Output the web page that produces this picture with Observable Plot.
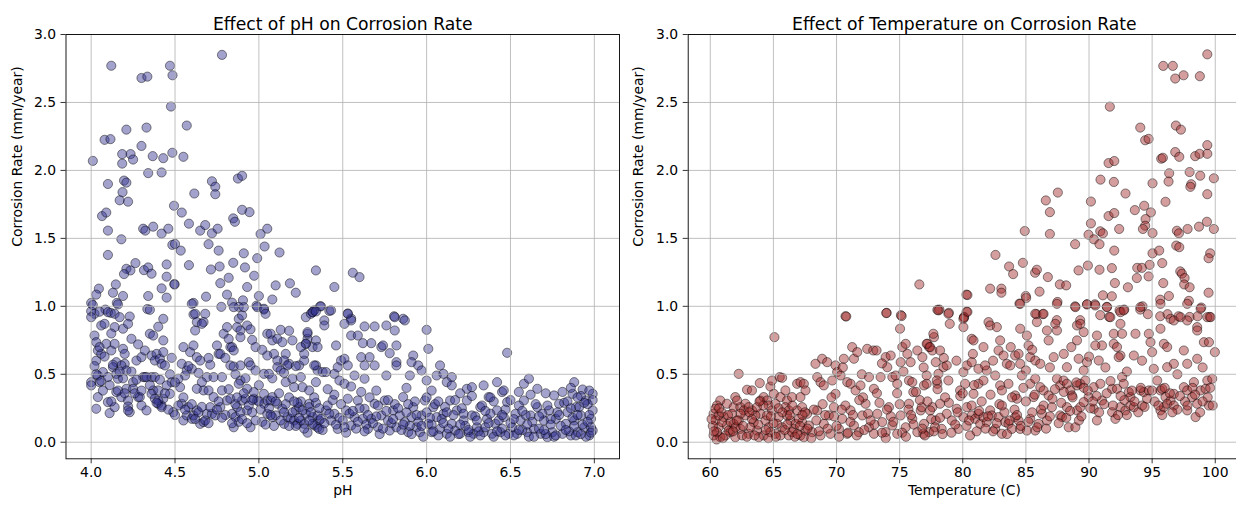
<!DOCTYPE html>
<html><head><meta charset="utf-8">
<script src="https://cdn.jsdelivr.net/npm/d3@7"></script>
<script src="https://cdn.jsdelivr.net/npm/@observablehq/plot@0.6"></script>
<style>
html,body{margin:0;padding:0;background:#fff;overflow:hidden;}
#wrap{position:relative;width:1236px;height:508px;overflow:hidden;}
#wrap svg{position:absolute;top:0;}
</style></head><body><div id="wrap"></div>
<script>
const leftTitle = "Effect of pH on Corrosion Rate";
const rightTitle = "Effect of Temperature on Corrosion Rate";
const leftXLabel = "pH";
const rightXLabel = "Temperature (C)";
const yLabel = "Corrosion Rate (mm/year)";
const phTicks = [4.0, 4.5, 5.0, 5.5, 6.0, 6.5, 7.0];
const tempTicks = [60, 65, 70, 75, 80, 85, 90, 95, 100];
const rateTicks = [0.0, 0.5, 1.0, 1.5, 2.0, 2.5, 3.0];

// [pH, corrosion rate]
const phPoints = [
[4.78,2.85],[4.12,2.77],[4.47,2.77],[4.30,2.68],[4.335,2.69],[4.485,2.70],[4.476,2.47],[4.21,2.30],[4.33,2.315],[4.57,2.33],[4.08,2.225],[4.115,2.23],[4.30,2.18],[4.01,2.07],[4.185,2.12],[4.235,2.12],[4.25,2.08],[4.185,2.05],[4.367,2.105],[4.43,2.09],[4.484,2.13],[4.55,2.10],[4.10,1.90],[4.196,1.925],[4.21,1.91],[4.34,1.98],[4.42,1.985],[4.187,1.84],[4.17,1.78],[4.22,1.77],[4.72,1.92],[4.74,1.88],[4.74,1.825],[4.875,1.94],[4.90,1.96],[4.615,1.83],[4.065,1.664],[4.09,1.69],[4.10,1.557],[4.18,1.493],[4.31,1.571],[4.323,1.557],[4.37,1.586],[4.42,1.535],[4.46,1.571],[4.494,1.74],[4.54,1.69],[4.583,1.608],[4.65,1.557],[4.68,1.598],[4.72,1.537],[4.754,1.571],[4.847,1.647],[4.857,1.622],[4.90,1.71],[4.944,1.693],[5.01,1.532],[5.05,1.571],[4.10,1.378],[4.484,1.452],[4.50,1.459],[4.534,1.41],[4.70,1.457],[4.76,1.41],[4.91,1.39],[5.034,1.44],[5.123,1.396],[4.99,1.354],[4.264,1.318],[4.21,1.276],[4.234,1.264],[4.196,1.237],[4.315,1.266],[4.34,1.286],[4.36,1.24],[4.45,1.308],[4.45,1.218],[4.583,1.303],[4.714,1.271],[4.766,1.293],[4.847,1.32],[4.917,1.286],[4.972,1.225],[4.82,1.21],[4.77,1.17],[4.496,1.164],[4.497,1.16],[4.147,1.161],[4.046,1.13],[4.03,1.086],[4.13,1.10],[4.19,1.076],[4.153,1.025],[4.34,1.076],[4.42,1.132],[4.45,1.064],[4.685,1.071],[4.81,1.086],[4.93,1.142],[5.10,1.154],[5.185,1.169],[5.22,1.10],[5.34,1.264],[5.45,1.142],[5.08,1.05],[5.0,1.076],[4.84,1.027],[4.905,1.044],[4.61,1.025],[4.986,1.005],[4.0,1.025],[4.0,0.964],[4.085,0.976],[4.117,0.952],[4.335,0.98],[4.776,0.996],[4.88,0.996],[5.03,0.976],[5.32,0.957],[5.365,1.0],[5.42,0.966],[5.56,1.247],[5.60,1.215],[5.53,0.947],[5.55,0.91],[5.806,0.927],[5.86,0.908],
[4.01,1.01],[4.02,0.945],[4.0,0.92],[4.05,0.96],[4.1,0.957],[4.14,0.945],[4.16,1.014],[4.06,0.859],[4.08,0.871],[4.14,0.847],[4.19,0.835],[4.17,0.92],[4.23,0.925],[4.22,0.871],[4.02,0.785],[4.03,0.736],[4.04,0.675],[4.06,0.65],[4.03,0.60],[4.09,0.724],[4.12,0.675],[4.14,0.724],[4.15,0.589],[4.19,0.687],[4.2,0.577],[4.18,0.565],[4.13,0.552],[4.15,0.503],[4.16,0.467],[4.21,0.528],[4.24,0.761],[4.27,0.601],[4.3,0.626],[4.32,0.675],[4.35,0.798],[4.37,0.785],[4.43,0.749],[4.36,0.638],[4.39,0.65],[4.38,0.601],[4.41,0.614],[4.43,0.663],[4.42,0.577],[4.44,0.565],[4.35,0.974],[4.43,0.908],[4.48,0.621],[4.54,0.577],[4.56,0.491],[4.52,0.467],[4.48,0.442],[4.53,0.405],[4.61,0.94],[4.62,0.945],[4.63,0.884],[4.62,0.822],[4.68,0.945],[4.6,1.018],[4.67,0.884],[4.66,0.871],[4.59,0.663],[4.61,0.712],[4.63,0.626],[4.65,0.601],[4.57,0.528],[4.6,0.54],[4.69,0.479],[4.66,0.442],[4.67,0.381],[4.7,0.381],[4.63,0.393],[4.75,0.712],[4.76,0.65],[4.79,0.798],[4.81,0.847],[4.83,0.7],[4.84,0.7],[4.85,0.675],[4.85,0.994],[4.88,0.908],[4.9,0.933],[4.91,0.994],[4.93,0.859],[4.87,0.847],[4.89,0.822],[4.89,0.773],[4.96,0.753],[4.77,0.65],[4.78,0.479],[4.73,0.479],[4.83,0.565],[4.85,0.557],[4.89,0.565],[4.94,0.589],[4.95,0.565],[4.89,0.454],[4.88,0.43],[4.93,0.393],[4.98,0.528],[4.98,0.7],[4.99,0.994],[5.03,0.982],[5.04,0.945],[5.05,0.798],[5.07,0.798],[5.08,0.749],[5.13,0.827],[5.11,0.761],[5.14,0.736],[5.16,0.65],[5.2,0.749],[5.18,0.577],[5.15,0.601],[5.17,0.565],[5.09,0.65],[5.05,0.638],[5.03,0.503],[5.06,0.503],[5.11,0.601],[5.11,0.552],[5.13,0.528],[5.16,0.442],[5.2,0.467],[5.24,0.565],[5.25,0.479],[5.21,0.405],[5.26,0.405],[5.28,0.92],[5.31,0.945],[5.33,0.97],[5.28,0.724],[5.29,0.761],[5.29,0.798],[5.34,0.749],[5.32,0.7],[5.27,0.601],[5.34,0.565],[5.35,0.528],[5.3,0.381],[5.34,0.442],
[4.0,0.442],[4.0,0.418],[4.05,0.442],[4.04,0.491],[4.07,0.516],[4.04,0.332],[4.03,0.246],[4.1,0.295],[4.11,0.214],[4.14,0.258],[4.15,0.369],[4.18,0.332],[4.21,0.393],[4.22,0.307],[4.22,0.263],[4.23,0.221],[4.22,0.234],[4.25,0.442],[4.25,0.393],[4.28,0.332],[4.29,0.332],[4.3,0.27],[4.33,0.234],[4.31,0.479],[4.32,0.479],[4.36,0.479],[4.38,0.479],[4.37,0.381],[4.36,0.356],[4.4,0.381],[4.38,0.32],[4.4,0.283],[4.42,0.27],[4.43,0.32],[4.4,0.307],[4.42,0.258],[4.45,0.418],[4.47,0.356],[4.49,0.221],[4.54,0.283],[4.55,0.16],[4.58,0.258],[4.57,0.197],[4.6,0.172],[4.61,0.197],[4.63,0.234],[4.65,0.135],[4.67,0.148],[4.69,0.209],[4.72,0.209],[4.74,0.197],[4.73,0.332],[4.71,0.258],[4.77,0.258],[4.78,0.381],[4.81,0.307],[4.83,0.32],[4.84,0.209],[4.85,0.11],[4.86,0.185],[4.87,0.258],[4.89,0.221],[4.9,0.307],[4.92,0.32],[4.93,0.234],[4.94,0.27],[4.95,0.11],[4.97,0.32],[4.99,0.307],[4.97,0.369],[5.03,0.356],[5.03,0.283],[5.05,0.307],[5.07,0.307],[5.08,0.332],[5.05,0.209],[5.08,0.185],[5.1,0.197],[5.11,0.283],[5.14,0.246],[5.15,0.135],[5.17,0.185],[5.19,0.172],[5.21,0.16],[5.22,0.234],[5.24,0.258],[5.23,0.135],[5.25,0.16],[5.27,0.135],[5.28,0.209],[5.3,0.283],[5.32,0.185],[5.33,0.123],[5.35,0.11],[5.36,0.16],[5.36,0.098],
[5.37,1.0],[5.32,0.957],[5.34,0.962],[5.43,0.97],[5.39,0.896],[5.39,0.859],[5.53,0.945],[5.55,0.896],[5.51,0.871],[5.63,0.852],[5.69,0.852],[5.76,0.859],[5.81,0.92],[5.87,0.896],[5.81,0.822],[6.0,0.827],[6.01,0.687],[5.29,0.81],[5.28,0.724],[5.35,0.7],[5.46,0.712],[5.55,0.785],[5.59,0.785],[5.62,0.729],[5.67,0.729],[5.73,0.7],[5.74,0.712],[5.78,0.655],[5.82,0.712],[5.27,0.65],[5.33,0.565],[5.38,0.516],[5.4,0.516],[5.45,0.503],[5.47,0.552],[5.49,0.601],[5.51,0.614],[5.53,0.565],[5.48,0.454],[5.51,0.43],[5.57,0.491],[5.61,0.626],[5.63,0.565],[5.66,0.626],[5.63,0.467],[5.69,0.565],[5.76,0.491],[5.82,0.589],[5.82,0.565],[5.92,0.638],[5.91,0.589],[5.95,0.565],[5.97,0.528],[5.9,0.491],[6.08,0.565],[6.06,0.491],[6.1,0.503],[6.15,0.479],[6.0,0.454],[6.12,0.442],[6.15,0.418],[6.24,0.393],[6.27,0.405],[6.34,0.418],[6.42,0.442],[6.45,0.369],[6.46,0.381],[6.58,0.43],[6.61,0.467],[6.66,0.393],[6.88,0.442],[6.93,0.388],[6.99,0.356],[6.76,0.344],[6.87,0.356],[6.48,0.658],
[5.26,0.234],[5.3,0.258],[5.32,0.135],[5.35,0.197],[5.37,0.172],[5.4,0.234],[5.43,0.16],[5.45,0.209],[5.47,0.098],[5.5,0.16],[5.52,0.234],[5.55,0.123],[5.57,0.185],[5.59,0.307],[5.62,0.172],[5.63,0.246],[5.65,0.098],[5.67,0.172],[5.69,0.283],[5.71,0.11],[5.73,0.197],[5.75,0.307],[5.77,0.16],[5.78,0.086],[5.8,0.234],[5.82,0.11],[5.84,0.197],[5.86,0.332],[5.87,0.148],[5.89,0.074],[5.91,0.185],[5.92,0.258],[5.94,0.11],[5.96,0.074],[5.97,0.197],[5.99,0.307],[6.01,0.135],[6.03,0.074],[6.04,0.258],[6.06,0.185],[6.08,0.098],[6.1,0.209],[6.12,0.062],[6.14,0.307],[6.15,0.135],[6.17,0.086],[6.18,0.234],[6.2,0.062],[6.22,0.16],[6.24,0.307],[6.25,0.074],[6.27,0.197],[6.28,0.062],[6.3,0.11],[6.32,0.258],[6.34,0.074],[6.36,0.172],[6.37,0.332],[6.39,0.062],[6.41,0.135],[6.42,0.234],[6.44,0.074],[6.46,0.185],[6.48,0.295],[6.49,0.062],[6.51,0.11],[6.53,0.209],[6.54,0.062],[6.56,0.16],[6.58,0.307],[6.6,0.074],[6.62,0.197],[6.64,0.098],[6.66,0.258],[6.68,0.062],[6.7,0.16],[6.72,0.037],[6.73,0.234],[6.75,0.074],[6.77,0.172],[6.79,0.283],[6.81,0.062],[6.83,0.135],[6.84,0.221],[6.86,0.05],[6.88,0.16],[6.89,0.258],[6.9,0.074],[6.92,0.197],[6.94,0.11],[6.95,0.307],[6.97,0.05],[6.98,0.172],[6.99,0.234],[6.99,0.086],
[5.22,0.12],[5.25,0.3],[5.29,0.07],[5.31,0.22],[5.34,0.29],[5.38,0.09],[5.41,0.27],[5.44,0.31],[5.46,0.13],[5.49,0.28],[5.52,0.07],[5.54,0.21],[5.58,0.1],[5.6,0.25],[5.64,0.13],[5.66,0.33],[5.7,0.19],[5.72,0.06],[5.76,0.23],[5.79,0.14],[5.81,0.28],[5.85,0.09],[5.88,0.22],[5.9,0.12],[5.93,0.3],[5.95,0.15],[5.98,0.04],[6.0,0.22],[6.03,0.13],[6.05,0.28],[6.07,0.05],[6.09,0.17],[6.11,0.26],[6.13,0.1],[6.16,0.2],[6.19,0.06],[6.21,0.25],[6.23,0.12],[6.26,0.04],[6.29,0.19],[6.31,0.08],[6.33,0.27],[6.35,0.11],[6.38,0.21],[6.4,0.04],[6.43,0.16],[6.45,0.1],[6.47,0.24],[6.5,0.14],[6.52,0.05],[6.55,0.27],[6.57,0.09],[6.59,0.2],[6.61,0.04],[6.63,0.15],[6.65,0.28],[6.67,0.1],[6.69,0.21],[6.71,0.06],[6.74,0.17],[6.76,0.04],[6.78,0.22],[6.8,0.12],[6.82,0.29],[6.85,0.08],[6.87,0.18],[6.89,0.05],[6.91,0.26],[6.93,0.13],[6.95,0.04],[6.97,0.2],[6.98,0.11],[6.99,0.31],[6.96,0.28],[6.92,0.34],[6.84,0.3],
[4.02,0.56],[4.06,0.45],[4.08,0.63],[4.11,0.42],[4.13,0.57],[4.16,0.38],[4.19,0.47],[4.24,0.52],[4.26,0.36],[4.33,0.48],[4.39,0.29],[4.44,0.36],[4.46,0.24],[4.5,0.44],[4.55,0.33],[4.6,0.28],[4.64,0.22],[4.68,0.16],[4.76,0.3],[4.8,0.2],[4.82,0.39],[4.86,0.28],[4.88,0.15],[4.91,0.36],[4.96,0.22],[5.0,0.3],[5.02,0.15],[5.06,0.25],[5.09,0.12],[5.12,0.36],[5.16,0.28],[5.18,0.33],[5.2,0.22],[5.23,0.29],
[5.3,0.16],[5.33,0.33],[5.36,0.25],[5.39,0.14],[5.42,0.21],[5.45,0.35],[5.48,0.18],[5.51,0.11],[5.53,0.32],[5.56,0.23],[5.59,0.15],[5.61,0.37],[5.63,0.08],[5.65,0.2],[5.68,0.14],[5.71,0.27],[5.74,0.1],[5.77,0.31],[5.8,0.17],[5.83,0.25],[5.86,0.13],[5.89,0.28],[5.91,0.06],[5.94,0.2],[5.97,0.12],[6.0,0.33],[6.02,0.18],[6.04,0.08],[6.07,0.3],[6.1,0.14],[6.12,0.22],[6.14,0.04],[6.17,0.31],[6.2,0.13],[6.22,0.21],[6.25,0.09],[6.27,0.34],[6.3,0.16],[6.32,0.05],[6.35,0.23],[6.37,0.14],[6.4,0.3],[6.42,0.08],[6.45,0.2],[6.47,0.05],[6.5,0.31],[6.52,0.17],[6.55,0.09],[6.57,0.23],[6.6,0.13],[6.62,0.35],[6.64,0.04],[6.67,0.19],[6.7,0.09],[6.72,0.27],[6.74,0.13],[6.77,0.05],[6.79,0.2],[6.81,0.37],[6.83,0.09],[6.86,0.25],[6.88,0.12],[6.9,0.2],[6.92,0.06],[6.94,0.29],[6.96,0.15],[6.98,0.07],[6.97,0.38],[6.9,0.33],[6.86,0.4],[6.71,0.36],[6.55,0.37],[6.38,0.33],[6.2,0.36],[6.03,0.38],[5.88,0.4],[5.7,0.38],[5.55,0.41],[5.41,0.39],
[4.5,0.2],[4.52,0.27],[4.56,0.24],[4.62,0.17],[4.66,0.26],[4.7,0.14],[4.75,0.24],[4.78,0.18],[4.84,0.14],[4.87,0.33],[4.9,0.17],[4.93,0.14],[4.96,0.31],[4.98,0.16],[5.01,0.24],[5.04,0.13],[5.07,0.2],[5.1,0.3],[5.13,0.16],[5.15,0.22],[5.18,0.12],[5.21,0.3],[5.24,0.18],[5.27,0.1],[4.03,0.5],[4.07,0.38],[4.1,0.48],[4.12,0.3],[4.17,0.52],[4.2,0.36],[4.27,0.46],[4.3,0.38],[4.35,0.42],[4.41,0.46],[4.47,0.5],[4.58,0.56],[4.64,0.51],[4.71,0.57],[4.8,0.62],[4.86,0.5],[4.92,0.47],[5.0,0.42],[5.08,0.47],[5.15,0.51],[5.22,0.56],[4.05,0.7],[4.12,0.8],[4.2,0.65],[4.28,0.72],[4.4,0.85],[4.55,0.7],[4.7,0.62],[4.82,0.76],[4.95,0.83],[5.02,0.68],[5.18,0.82],[5.25,0.7]
];

// [temperature, corrosion rate]
const tempPoints = [
[76.56,1.161],[80.29,1.086],[73.97,0.952],[75.1,0.935],[78.15,0.976],[78.9,0.952],[70.71,0.927],[80.3,0.96],[80.1,0.918],
[99.37,2.854],[95.88,2.769],[96.64,2.769],[96.83,2.676],[97.49,2.70],[98.78,2.693],[91.65,2.469],[94.06,2.315],[94.45,2.222],[94.72,2.232],[96.88,2.33],[97.28,2.30],[91.55,2.054],[92.0,2.069],[95.72,2.086],[95.85,2.093],[96.83,2.135],[97.15,2.10],[98.41,2.105],[98.76,2.122],[99.37,2.122],[99.37,2.186],[90.91,1.932],[91.97,1.915],[95.03,1.905],[96.35,1.979],[96.3,1.918],[97.97,1.988],[98.81,1.961],[99.89,1.942],[98.1,1.898],[98.03,1.879],[99.37,1.825],[92.89,1.83],[87.53,1.837],[86.58,1.779],[86.9,1.693],[90.15,1.771],[91.55,1.664],[92.0,1.686],[93.63,1.708],[94.37,1.74],[94.9,1.691],[94.48,1.642],[94.45,1.593],[94.27,1.569],[95.03,1.539],[96.06,1.769],[96.96,1.556],[97.12,1.537],[97.81,1.569],[98.71,1.586],[99.34,1.622],[99.89,1.569],[92.39,1.569],[90.15,1.61],[90.89,1.552],[91.1,1.537],[89.96,1.527],[90.38,1.493],[90.83,1.457],[88.9,1.457],[86.9,1.532],[84.91,1.554],[92.0,1.41],[95.03,1.39],[95.56,1.41],[96.91,1.447],[97.15,1.435],[99.6,1.39],[99.47,1.354],[82.59,1.378],[83.67,1.293],[83.99,1.237],[84.76,1.32],[85.73,1.247],[85.87,1.269],[86.74,1.215],[87.69,1.161],[88.19,1.154],[89.17,1.264],[89.91,1.3],[90.83,1.269],[91.81,1.281],[93.82,1.283],[94.19,1.283],[94.8,1.305],[95.8,1.318],[93.79,1.208],[94.72,1.22],[92.05,1.171],[93.08,1.14],[95.88,1.171],[97.23,1.257],[97.36,1.24],[97.57,1.208],[97.54,1.161],[97.97,1.14],[99.47,1.1],[96.33,1.076],[95.64,1.049],[97.91,1.04],[98.89,0.991],[82.17,1.13],[83.06,1.13],[83.06,1.1],[80.37,1.083],[84.99,1.076],[85.02,1.061],[86.08,1.108],[84.49,1.02],[87.5,1.032],[88.9,1.0],[89.85,1.015],[90.46,1.015],[91.1,1.081],[91.81,1.074],[91.41,0.996],[92.42,0.971],[92.79,0.976],[94.24,1.0],[94.06,0.976],[94.66,0.942],[80.1,0.922],[80.37,0.959],[85.84,0.942],[86.34,0.942],[87.45,0.898],[89.3,0.898],[90.89,0.935],[91.6,0.922],[95.64,0.927],[96.22,0.942],[97.09,0.927],[97.97,0.922],[98.6,0.927],[99.55,0.922],
[65.08,0.773],[70.77,0.925],[73.94,0.95],[75.16,0.928],[75.03,0.835],[77.72,0.773],[77.99,0.974],[62.25,0.503],[62.91,0.386],[63.3,0.381],[63.92,0.435],[64.76,0.41],[64.89,0.454],[65.5,0.479],[65.69,0.474],[61.98,0.332],[60.79,0.307],[60.53,0.27],[61.32,0.283],[61.85,0.258],[62.38,0.258],[62.78,0.283],[63.97,0.307],[64.23,0.332],[64.5,0.307],[65.03,0.356],[65.56,0.332],[65.95,0.381],[66.08,0.307],[66.48,0.332],[66.88,0.43],[67.14,0.442],[67.41,0.43],[67.54,0.381],[67.14,0.332],[68.33,0.577],[68.86,0.614],[69.26,0.589],[68.47,0.479],[68.73,0.442],[68.99,0.418],[69.66,0.454],[69.92,0.565],[70.05,0.516],[70.32,0.491],[69.92,0.356],[70.58,0.614],[71.24,0.7],[71.38,0.614],[71.64,0.663],[70.85,0.442],[71.11,0.43],[71.51,0.381],[71.9,0.418],[72.43,0.687],[72.91,0.675],[73.17,0.675],[72.57,0.479],[72.96,0.393],[73.49,0.479],[73.89,0.626],[74.29,0.638],[74.02,0.552],[74.42,0.479],[74.81,0.43],[74.68,0.491],[75.08,0.589],[75.21,0.7],[75.48,0.724],[75.61,0.65],[75.87,0.589],[75.74,0.454],[76.0,0.442],[76.08,0.369],[76.4,0.675],[76.8,0.626],[76.93,0.418],[77.33,0.7],[77.2,0.724],[77.59,0.675],[77.86,0.589],[77.99,0.43],
[60.26,0.209],[60.4,0.16],[60.26,0.05],[60.66,0.11],[60.79,0.037],[61.06,0.185],[61.32,0.123],[61.59,0.074],[61.72,0.209],[61.98,0.037],[62.25,0.16],[62.38,0.098],[62.78,0.197],[63.04,0.062],[63.31,0.234],[63.44,0.148],[63.7,0.086],[63.97,0.209],[64.23,0.05],[64.37,0.16],[64.63,0.11],[64.89,0.234],[65.16,0.062],[65.42,0.185],[65.69,0.11],[65.95,0.258],[66.22,0.05],[66.35,0.16],[66.61,0.098],[66.88,0.234],[67.14,0.05],[67.28,0.148],[67.54,0.086],[67.67,0.209],[68.07,0.074],[68.47,0.234],[68.73,0.05],[68.99,0.135],[69.39,0.197],[69.52,0.062],[69.79,0.258],[70.19,0.098],[70.45,0.172],[70.85,0.062],[71.11,0.234],[71.38,0.123],[71.77,0.074],[72.04,0.197],[72.3,0.283],[72.57,0.11],[72.96,0.062],[73.23,0.209],[73.62,0.148],[73.89,0.074],[74.15,0.258],[74.42,0.123],[74.81,0.062],[75.08,0.197],[75.48,0.11],[75.74,0.283],[76.0,0.172],[76.4,0.074],[76.67,0.234],[76.93,0.135],[77.33,0.074],[77.59,0.258],[77.86,0.16],
[60.53,0.074],[60.93,0.148],[61.46,0.086],[61.85,0.135],[62.52,0.05],[62.65,0.234],[63.17,0.11],[63.57,0.197],[63.84,0.037],[64.5,0.197],[64.76,0.074],[65.29,0.135],[65.56,0.05],[66.08,0.197],[66.48,0.074],[66.75,0.135],[67.01,0.172],[67.41,0.037],[67.81,0.123],[60.4,0.246],[60.66,0.197],[62.12,0.307],[63.04,0.258],[63.7,0.258],[64.63,0.27],[65.16,0.283],[66.22,0.234],[67.28,0.258],
[84.55,1.018],[87.46,1.018],[88.92,0.994],[89.84,1.014],[90.5,1.006],[91.43,0.994],[92.49,0.957],[92.75,0.97],[94.07,0.994],[95.66,1.018],[97.78,1.018],[98.84,0.982],[78.07,0.97],[78.86,0.945],[80.05,0.908],[78.97,0.871],[80.05,0.847],[82.04,0.884],[82.17,0.859],[84.55,0.835],[85.74,0.945],[85.87,0.884],[86.4,0.945],[86.67,0.822],[87.33,0.871],[87.46,0.822],[86.8,0.749],[89.05,0.859],[89.31,0.871],[89.58,0.81],[89.05,0.749],[90.63,0.785],[91.03,0.712],[90.5,0.712],[91.69,0.92],[91.96,0.798],[92.49,0.871],[92.62,0.798],[91.96,0.724],[92.22,0.7],[92.49,0.638],[92.35,0.626],[93.68,0.798],[93.55,0.638],[94.74,0.798],[94.87,0.736],[95.0,0.663],[95.13,0.54],[95.66,0.835],[95.93,0.724],[96.19,0.7],[96.46,0.908],[96.72,0.896],[97.25,0.92],[97.51,0.675],[97.78,0.896],[98.57,0.847],[98.57,0.822],[99.37,0.92],[99.63,0.92],[99.1,0.736],[99.5,0.736],[99.97,0.663],[98.57,0.614],[97.78,0.577],[96.72,0.577],[96.19,0.552],[82.7,0.847],[80.71,0.761],[80.85,0.749],[81.64,0.7],[77.67,0.798],[77.14,0.724],[77.41,0.7],[78.2,0.675],[78.47,0.552],[78.73,0.565],[78.07,0.503],[77.14,0.491],[80.05,0.516],[80.32,0.565],[80.71,0.589],[81.24,0.54],[81.9,0.528],[81.77,0.565],[82.83,0.675],[83.23,0.638],[83.49,0.577],[83.76,0.565],[84.15,0.638],[84.42,0.65],[84.55,0.577],[85.08,0.785],[85.21,0.712],[85.34,0.626],[85.74,0.601],[86.14,0.577],[85.0,0.528],[87.2,0.626],[88.0,0.65],[88.25,0.552],[89.18,0.614],[89.58,0.528],[89.84,0.589],[90.77,0.601],[82.96,0.749],
[77.14,0.43],[77.94,0.454],[78.86,0.454],[79.79,0.381],[80.18,0.43],[80.85,0.356],[81.24,0.43],[81.64,0.454],[82.57,0.491],[82.96,0.418],[83.1,0.381],[83.62,0.43],[84.15,0.344],[84.29,0.32],[84.68,0.491],[85.34,0.43],[85.74,0.467],[86.14,0.405],[86.4,0.381],[85.61,0.332],[86.8,0.344],[87.46,0.467],[87.72,0.418],[87.99,0.454],[88.25,0.43],[88.52,0.381],[88.65,0.344],[89.05,0.418],[89.31,0.43],[89.71,0.454],[89.97,0.332],[90.37,0.405],[90.9,0.43],[91.03,0.307],[91.83,0.393],[92.22,0.393],[92.62,0.479],[92.75,0.43],[93.15,0.369],[93.28,0.332],[94.07,0.381],[94.34,0.369],[94.74,0.381],[95.4,0.454],[95.66,0.381],[95.79,0.393],[96.06,0.332],[96.46,0.307],[96.72,0.356],[97.51,0.405],[97.78,0.381],[98.17,0.332],[98.31,0.442],[98.84,0.381],[99.23,0.393],[99.37,0.454],[99.76,0.467],[99.5,0.27],[98.57,0.283],[97.78,0.234],[98.44,0.185],
[76.75,0.258],[76.88,0.062],[77.41,0.234],[77.8,0.11],[78.2,0.283],[78.33,0.098],[78.73,0.209],[79.13,0.16],[79.52,0.246],[79.66,0.098],[80.05,0.185],[80.32,0.258],[80.58,0.05],[80.71,0.197],[80.98,0.172],[81.24,0.209],[81.38,0.135],[81.64,0.185],[81.9,0.148],[82.17,0.234],[82.3,0.197],[82.57,0.098],[82.83,0.185],[83.1,0.062],[83.36,0.148],[83.62,0.135],[83.89,0.098],[84.15,0.185],[84.42,0.16],[84.55,0.098],[85.08,0.086],[85.34,0.172],[85.74,0.086],[86.01,0.135],[86.27,0.209],[86.67,0.16],[87.06,0.258],[87.72,0.197],[87.86,0.185],[88.25,0.258],[88.39,0.11],[88.92,0.11],[89.05,0.234],[89.31,0.258],[89.58,0.295],[90.37,0.246],[90.63,0.16],[91.83,0.221],[92.09,0.172],[92.49,0.258],[92.88,0.234],[93.28,0.27],[93.55,0.258],[94.21,0.27],[95.66,0.234],[95.93,0.258],[96.19,0.283],[96.72,0.27],
[60.2,0.12],[60.5,0.02],[60.9,0.22],[61.2,0.05],[61.6,0.15],[62.0,0.11],[62.4,0.21],[62.9,0.04],[63.3,0.17],[63.8,0.13],[64.2,0.27],[64.6,0.03],[65.0,0.14],[65.4,0.25],[65.9,0.09],[66.3,0.2],[66.7,0.04],[67.1,0.12],[67.5,0.22],[68.0,0.03],[68.4,0.16],[68.9,0.28],[69.3,0.1],[69.8,0.19],[70.2,0.04],[70.7,0.27],[71.1,0.15],[71.6,0.05],[72.1,0.33],[72.5,0.21],[73.0,0.13],[73.4,0.29],[73.9,0.03],[74.3,0.19],[74.8,0.36],[75.2,0.07],[75.7,0.24],[76.1,0.13],[76.6,0.31],[77.0,0.05],[77.5,0.17],[78.0,0.39],[78.4,0.06],[78.9,0.29],[79.4,0.13],[79.8,0.34],[80.3,0.12],[80.7,0.27],[81.1,0.08],[81.5,0.3],[82.0,0.19],[82.4,0.08],[82.9,0.28],[83.3,0.22],[83.7,0.16],[84.1,0.24],[84.6,0.12],[85.0,0.3],[85.5,0.22],[85.9,0.11],[86.4,0.27],[86.9,0.19],[87.3,0.39],[87.8,0.29],[88.2,0.18],[88.7,0.33],[89.2,0.16],[89.6,0.4],[90.1,0.25],[90.6,0.34],[91.2,0.28],[91.7,0.45],[92.3,0.2],[92.8,0.31],[93.4,0.38],[93.9,0.22],[94.6,0.32],[95.2,0.3],[95.8,0.2],[96.4,0.36],[97.0,0.24],[97.6,0.3],[98.2,0.4],[98.8,0.22],[99.4,0.33],[99.8,0.27],
[60.1,0.17],[60.3,0.08],[60.7,0.25],[61.0,0.03],[61.4,0.2],[61.8,0.08],[62.1,0.16],[62.6,0.12],[63.1,0.22],[63.5,0.05],[63.9,0.3],[64.4,0.09],[64.8,0.19],[65.2,0.04],[65.7,0.22],[66.1,0.13],[66.5,0.27],[66.9,0.06],[67.3,0.2],[67.7,0.1],[68.2,0.24],[68.6,0.08],[69.1,0.2],[69.6,0.33],[70.0,0.12],[70.4,0.24],[70.9,0.07],[71.3,0.2],[71.8,0.31],[72.2,0.09],[72.7,0.16],[73.2,0.36],[73.6,0.07],[74.0,0.24],[74.5,0.15],[75.0,0.28],[75.5,0.04],[75.9,0.2],[76.3,0.37],[76.8,0.1],[77.2,0.3],[77.7,0.08],[78.2,0.18],[78.6,0.33],[79.1,0.07],[79.6,0.22],[80.0,0.36],[80.5,0.16],[80.9,0.42],[81.3,0.23],[81.8,0.1],[82.2,0.35],[82.7,0.14],[83.1,0.27],[83.5,0.06],[83.9,0.33],[84.3,0.2],[84.8,0.4],[85.2,0.15],[85.7,0.35],[86.2,0.24],[86.6,0.1],[87.1,0.32],[87.6,0.14],[88.0,0.37],[88.5,0.23],[89.0,0.44],[89.4,0.19],[89.9,0.38],[90.3,0.3],[90.8,0.22],[91.4,0.36],[91.9,0.27],[92.5,0.34],[93.0,0.2],[93.6,0.3],[94.1,0.4],[94.4,0.26],[95.0,0.38],[95.5,0.27],[96.0,0.4],[96.6,0.22],[97.2,0.34],[97.8,0.27],[98.4,0.35],[99.0,0.3],[99.6,0.4],
[70.5,0.55],[72.0,0.5],[73.6,0.58],[75.3,0.52],[76.9,0.55],[78.5,0.62],[79.5,0.6],[80.8,0.65],[82.4,0.6],[83.8,0.7],[85.5,0.68],[86.9,0.55],[88.6,0.7],[90.0,0.63],[91.3,0.55],[93.0,0.52],[94.2,0.6],[97.0,0.5],[99.0,0.55]
];

const fmt1 = d3.format(".1f");
const gridStyle = {stroke: "#b0b0b0", strokeOpacity: 1, strokeWidth: 0.8};

function panel({points, xDomain, xTicks, xFmt, xLabel, title, fill, ml, mr, ylabelDx}) {
  return Plot.plot({
    width: 640, height: 508,
    marginTop: 34, marginBottom: 49.7, marginLeft: ml, marginRight: mr,
    style: {fontFamily: "'DejaVu Sans', sans-serif", fontSize: "13.9px", color: "#000", background: "transparent", overflow: "visible"},
    x: {domain: xDomain},
    y: {domain: [-0.122, 3.0]},
    marks: [
      Plot.dot(points, {x: d => d[0], y: d => d[1], r: 4.6, fill, fillOpacity: 0.45, stroke: "#000", strokeOpacity: 0.45, strokeWidth: 1}),
      Plot.gridX(xTicks, gridStyle),
      Plot.gridY(rateTicks, gridStyle),
      Plot.frame({stroke: "#000", strokeWidth: 0.9}),
      Plot.axisX(xTicks, {tickSize: 5, tickPadding: 3.5, tickFormat: xFmt, label: null, fontSize: 13.9, stroke: "#000", strokeWidth: 0.8}),
      Plot.axisY(rateTicks, {tickSize: 5, tickPadding: 5, tickFormat: fmt1, label: null, fontSize: 13.9, stroke: "#000", strokeWidth: 0.8}),
      Plot.text([title], {text: d => d, frameAnchor: "top", dy: -17, fontSize: 17.2, fill: "#000"}),
      Plot.text([xLabel], {text: d => d, frameAnchor: "bottom", dy: 36, fontSize: 13.9, fill: "#000"}),
      Plot.text([yLabel], {text: d => d, frameAnchor: "left", dx: ylabelDx, rotate: -90, fontSize: 13.9, fill: "#000"})
    ]
  });
}

const wrap = document.getElementById("wrap");
const left = panel({points: phPoints, xDomain: [3.85, 7.15], xTicks: phTicks, xFmt: fmt1, xLabel: leftXLabel, title: leftTitle, fill: "#303090", ml: 65.5, mr: 21, ylabelDx: -48});
left.style.left = "0px";
wrap.appendChild(left);
const right = panel({points: tempPoints, xDomain: [58.25, 102], xTicks: tempTicks, xFmt: d => String(d), xLabel: rightXLabel, title: rightTitle, fill: "#a02828", ml: 67.7, mr: 20, ylabelDx: -50});
right.style.left = "620px";
wrap.appendChild(right);
</script></body></html>
